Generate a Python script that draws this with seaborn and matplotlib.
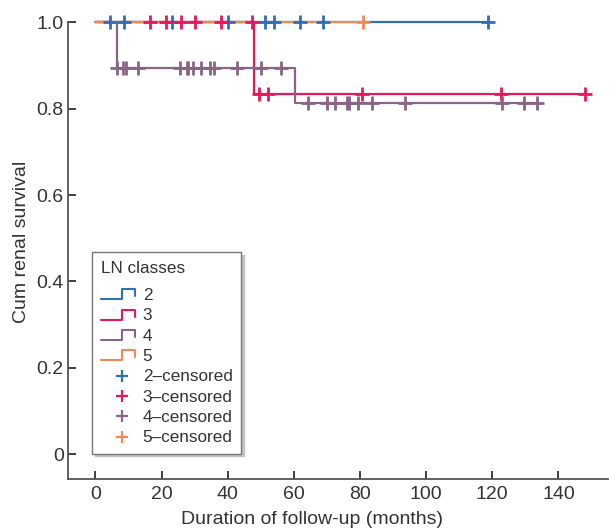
import numpy as np
import pandas as pd
import seaborn as sns
import matplotlib
matplotlib.use("Agg")
import matplotlib.pyplot as plt
from matplotlib.lines import Line2D
from matplotlib.legend_handler import HandlerBase

# Kaplan-Meier step data per LN class: event times and survival after each event
groups = ["2", "3", "4", "5"]
colors = {"2": "#2e6fb5", "3": "#e5175e", "4": "#8a6486", "5": "#ee8a55"}

event_times = {
    "2": [],
    "3": [47.9],
    "4": [6.4, 60.2],
    "5": [],
}
event_surv = {
    "2": [],
    "3": [0.833],
    "4": [0.895, 0.814],
    "5": [],
}
censored_times = {
    "2": [4.4, 8.7, 23.3, 40.0, 51.2, 53.9, 61.9, 68.8, 118.7],
    "3": [16.5, 21.3, 25.9, 30.2, 38.0, 47.4, 49.4, 52.1, 80.7, 122.6, 148.0],
    "4": [6.4, 8.3, 9.1, 12.9, 25.6, 27.6, 28.0, 29.4, 31.8, 34.6, 36.0, 42.7,
          50.0, 56.1, 64.2, 70.0, 72.4, 76.0, 76.6, 79.3, 83.6, 93.5, 122.8,
          129.6, 133.4],
    "5": [80.9],
}

x_ticks = [0, 20, 40, 60, 80, 100, 120, 140]
y_ticks = [0, 0.2, 0.4, 0.6, 0.8, 1.0]
y_ticklabels = ["0", "0.2", "0.4", "0.6", "0.8", "1.0"]


def surv_at(g, t):
    times = np.array([0.0] + event_times[g])
    surv = np.array([1.0] + event_surv[g])
    idx = np.searchsorted(times, t, side="right") - 1
    return surv[idx]


curve_rows, cens_rows = [], []
for g in groups:
    end = max(censored_times[g] + event_times[g])
    ts = [0.0] + event_times[g] + [end]
    ss = [1.0] + event_surv[g] + [([1.0] + event_surv[g])[-1]]
    for t, s in zip(ts, ss):
        curve_rows.append({"time": t, "surv": s, "group": g})
    for t in censored_times[g]:
        cens_rows.append({"time": t, "surv": surv_at(g, t), "group": g})
curves = pd.DataFrame(curve_rows)
cens = pd.DataFrame(cens_rows)

sns.set_style("ticks")
plt.rcParams["font.family"] = ["Liberation Sans", "DejaVu Sans"]

FS = 14
LFS = 12.3
W, H = 609, 532
fig = plt.figure(figsize=(W / 100, H / 100), dpi=100)
ax = fig.add_axes([68 / W, (H - 479.3) / H, 540 / W, 469.9 / H])

sns.lineplot(data=curves, x="time", y="surv", hue="group", palette=colors,
             hue_order=groups, estimator=None, sort=False,
             drawstyle="steps-post", linewidth=1.6, legend=False, ax=ax)
for g in groups:
    sub = cens[cens["group"] == g]
    sns.scatterplot(data=sub, x="time", y="surv", color=colors[g], marker="+",
                    s=95, linewidth=2.0, legend=False, ax=ax, zorder=3)

ax.set_xlim(-8.3, 155.0)
ax.set_ylim(-0.0586, 1.03)
ax.set_xticks(x_ticks)
ax.set_yticks(y_ticks)
ax.set_yticklabels(y_ticklabels)

spine_c = "#555555"
for side in ["top", "right"]:
    ax.spines[side].set_visible(False)
for side in ["left", "bottom"]:
    ax.spines[side].set_color(spine_c)
    ax.spines[side].set_linewidth(1.3)
ax.spines["left"].set_bounds(-0.0586, 1.0)
ax.tick_params(axis="both", direction="in", length=6, width=1.3,
               color="#333333", labelsize=FS, labelcolor="#333333")
ax.tick_params(axis="y", pad=3)
ax.tick_params(axis="x", pad=5)

ax.set_xlabel("Duration of follow-up (months)", fontsize=FS, color="#333333")
ax.set_ylabel("Cum renal survival", fontsize=FS, color="#333333")
ax.xaxis.set_label_coords(0.452, -0.068)
ax.yaxis.set_label_coords(-0.071, 0.506)


class StepHandle:
    def __init__(self, color):
        self.color = color


class CensorHandle:
    def __init__(self, color):
        self.color = color


class StepHandler(HandlerBase):
    def create_artists(self, legend, orig_handle, xdescent, ydescent,
                       width, height, fontsize, trans):
        x0 = -xdescent
        y0 = -ydescent
        xs = [x0, x0 + 0.63 * width, x0 + 0.63 * width, x0 + width, x0 + width]
        ys = [y0 + 0.05 * height, y0 + 0.05 * height, y0 + 0.9 * height,
              y0 + 0.9 * height, y0 + 0.3 * height]
        ln = Line2D(xs, ys, color=orig_handle.color, linewidth=1.5)
        ln.set_transform(trans)
        return [ln]


class CensorHandler(HandlerBase):
    def create_artists(self, legend, orig_handle, xdescent, ydescent,
                       width, height, fontsize, trans):
        x0 = -xdescent
        y0 = -ydescent
        ln = Line2D([x0 + 0.63 * width], [y0 + 0.45 * height], linestyle="none",
                    marker="+", markersize=8, markeredgewidth=1.6,
                    color=orig_handle.color)
        ln.set_transform(trans)
        return [ln]


handles, labels = [], []
for g in groups:
    handles.append(StepHandle(colors[g]))
    labels.append(g)
for g in groups:
    handles.append(CensorHandle(colors[g]))
    labels.append(f"{g}\u2013censored")

leg = ax.legend(handles, labels, title="LN classes", loc="upper left",
                bbox_to_anchor=(92.3 / W, 1 - 252.3 / H),
                bbox_transform=fig.transFigure, borderaxespad=0,
                fontsize=LFS, title_fontsize=LFS, alignment="left",
                handler_map={StepHandle: StepHandler(),
                             CensorHandle: CensorHandler()},
                handlelength=2.0, handletextpad=0.45, labelspacing=0.31,
                borderpad=0.5, frameon=True, fancybox=False,
                shadow={"ox": 2.0, "oy": -2.0, "color": "#c4c4c4", "alpha": 1.0},
                framealpha=1.0, edgecolor="#777777")
leg._legend_box.sep += 5
leg.get_frame().set_linewidth(1.0)
for t in leg.get_texts():
    t.set_color("#333333")
leg.get_title().set_color("#333333")

fig.savefig("out.png", dpi=100)
